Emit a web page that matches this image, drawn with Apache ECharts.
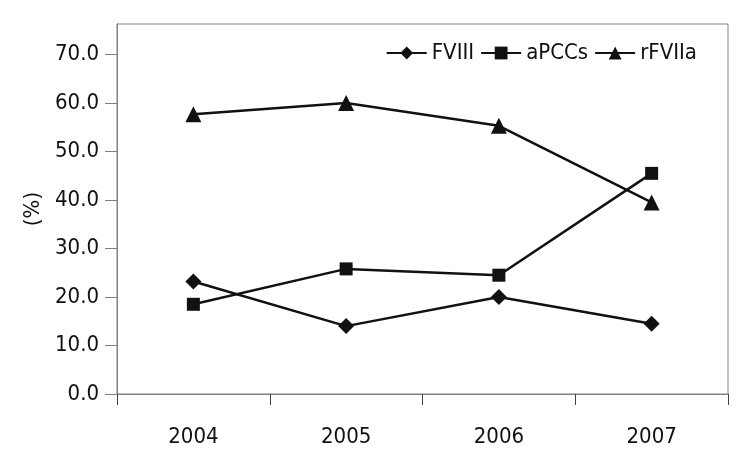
<!DOCTYPE html>
<html>
<head>
<meta charset="utf-8">
<script src="https://cdn.jsdelivr.net/npm/echarts@6/dist/echarts.min.js"></script>
<style>
  html, body { margin: 0; padding: 0; background: #fff; }
  #chart { width: 754px; height: 458px; }
</style>
</head>
<body>
<div id="chart"></div>
<script>
// data
const years = ["2004", "2005", "2006", "2007"];
const fviii = [23.2, 14.0, 20.0, 14.5];
const apccs = [18.5, 25.8, 24.5, 45.5];
const rfviia = [57.7, 60.0, 55.3, 39.5];
const yTicks = [0, 10, 20, 30, 40, 50, 60, 70];

const font = '"Liberation Sans Narrow", "DejaVu Sans Condensed", sans-serif';
const ink = "#111";

const chart = echarts.init(document.getElementById("chart"));

function lineSeries(name, data, symbol, size) {
  return {
    name: name,
    type: "line",
    data: data,
    symbol: symbol,
    symbolSize: size,
    showSymbol: true,
    lineStyle: { color: ink, width: 2.5 },
    itemStyle: { color: ink },
    animation: false,
  };
}

chart.setOption({
  backgroundColor: "#fff",
  grid: {
    left: 117,
    right: 26,
    top: 24,
    bottom: 64,
    show: true,
    borderColor: "#808080",
    borderWidth: 1,
  },
  legend: {
    top: 37,
    right: 52,
    itemWidth: 40,
    itemHeight: 16,
    itemGap: 6,
    textStyle: { fontFamily: font, fontSize: 22, color: ink },
    data: ["FVIII", "aPCCs", "rFVIIa"],
  },
  xAxis: {
    type: "category",
    data: years,
    boundaryGap: true,
    axisLine: { show: true, lineStyle: { color: "#808080", width: 1 } },
    axisTick: {
      show: true,
      alignWithLabel: false,
      interval: 0,
      inside: false,
      length: 11,
      lineStyle: { color: "#404040", width: 1 },
    },
    axisLabel: { fontFamily: font, fontSize: 22, color: ink, margin: 32 },
  },
  yAxis: {
    type: "value",
    min: 0,
    max: 76.3,
    interval: 10,
    name: "(%)",
    nameLocation: "middle",
    nameGap: 66,
    nameRotate: 90,
    nameTextStyle: { fontFamily: font, fontSize: 22, color: ink },
    axisLine: { show: true, lineStyle: { color: "#808080", width: 1 } },
    axisTick: { show: true, length: 12, customValues: yTicks, lineStyle: { color: "#808080" } },
    axisLabel: {
      fontFamily: font,
      fontSize: 22,
      color: ink,
      margin: 18,
      customValues: yTicks,
      formatter: (v) => v.toFixed(1),
    },
    splitLine: { show: false },
  },
  series: [
    lineSeries("FVIII", fviii, "diamond", 16),
    lineSeries("aPCCs", apccs, "rect", 13),
    lineSeries("rFVIIa", rfviia, "triangle", 16),
  ],
});
</script>
</body>
</html>
